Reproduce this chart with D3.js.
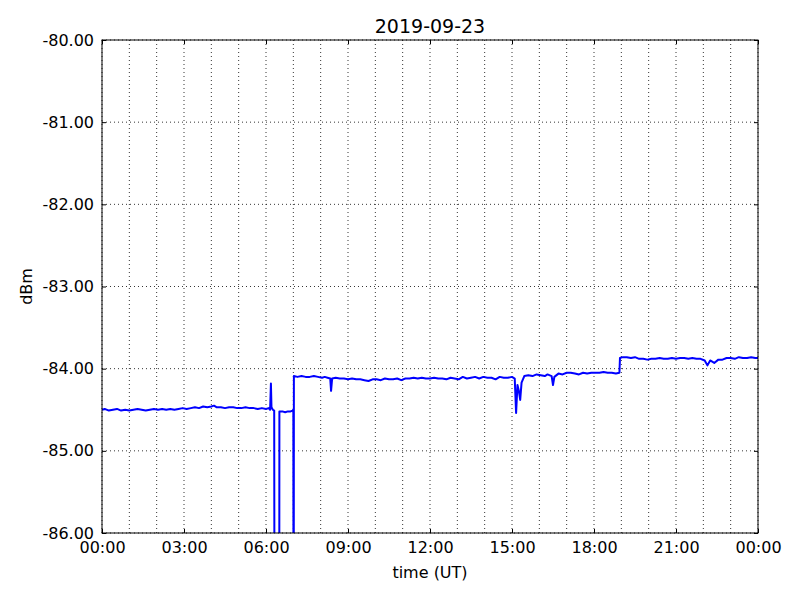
<!DOCTYPE html>
<html>
<head>
<meta charset="utf-8">
<script src="https://cdn.jsdelivr.net/npm/d3@7"></script>
<style>
  body { margin: 0; background: #fff; }
  text { font-family: "DejaVu Sans", sans-serif; }
</style>
</head>
<body>
<div id="chart"></div>
<script>
// readings: hour of day (UT) and level (dBm)
const hours = [
  0.00, 0.10, 0.25, 0.40, 0.55, 0.70, 0.85, 1.00, 1.15, 1.30, 1.45, 1.60, 1.75, 1.90,
  2.05, 2.20, 2.35, 2.50, 2.65, 2.80, 2.95, 3.10, 3.25, 3.40, 3.55, 3.70, 3.85, 4.00,
  4.10, 4.20, 4.35, 4.50, 4.65, 4.80, 4.95, 5.10, 5.25, 5.40, 5.55, 5.70, 5.85, 6.00,
  6.10, 6.15, 6.18, 6.20, 6.25, 6.30, 6.32, 6.48, 6.49, 6.60, 6.70, 6.80, 6.90, 6.97,
  7.00, 7.01, 7.02, 7.15, 7.30, 7.45, 7.60, 7.75, 7.90, 8.05, 8.15, 8.25, 8.35, 8.38,
  8.42, 8.55, 8.70, 8.85, 9.00, 9.15, 9.30, 9.45, 9.60, 9.75, 9.90, 10.05, 10.20, 10.35,
  10.50, 10.65, 10.80, 10.95, 11.10, 11.25, 11.40, 11.55, 11.70, 11.85, 12.00, 12.15,
  12.30, 12.45, 12.60, 12.75, 12.90, 13.05, 13.20, 13.35, 13.50, 13.65, 13.80, 13.95,
  14.10, 14.25, 14.40, 14.55, 14.70, 14.85, 15.00, 15.10, 15.15, 15.20, 15.25, 15.30,
  15.35, 15.45, 15.60, 15.75, 15.90, 16.05, 16.20, 16.30, 16.45, 16.50, 16.55, 16.70,
  16.85, 17.00, 17.15, 17.30, 17.45, 17.60, 17.75, 17.90, 18.05, 18.20, 18.35, 18.50,
  18.65, 18.80, 18.93, 18.95, 19.05, 19.20, 19.35, 19.50, 19.65, 19.80, 19.95, 20.10,
  20.25, 20.40, 20.55, 20.70, 20.85, 21.00, 21.15, 21.30, 21.45, 21.60, 21.75, 21.90,
  22.05, 22.15, 22.25, 22.40, 22.55, 22.70, 22.85, 23.00, 23.15, 23.30, 23.45, 23.60,
  23.75, 23.90, 24.00
]
const dbm = [
  -84.50, -84.49, -84.51, -84.50, -84.49, -84.51, -84.50, -84.51, -84.50, -84.49, -84.50, -84.51, -84.50, -84.49,
  -84.50, -84.49, -84.50, -84.49, -84.50, -84.49, -84.48, -84.49, -84.48, -84.47, -84.48, -84.46, -84.47, -84.46,
  -84.45, -84.47, -84.47, -84.48, -84.47, -84.47, -84.48, -84.48, -84.47, -84.48, -84.48, -84.49, -84.48, -84.49,
  -84.48, -84.50, -84.18, -84.47, -84.50, -84.51, -90.00, -90.00, -84.52, -84.52, -84.53, -84.52, -84.52, -84.51,
  -84.50, -90.00, -84.09, -84.10, -84.09, -84.10, -84.10, -84.09, -84.10, -84.11, -84.10, -84.11, -84.12, -84.27,
  -84.12, -84.11, -84.12, -84.12, -84.13, -84.12, -84.13, -84.13, -84.14, -84.15, -84.13, -84.13, -84.14, -84.12,
  -84.13, -84.13, -84.12, -84.14, -84.12, -84.12, -84.11, -84.12, -84.11, -84.12, -84.12, -84.11,
  -84.12, -84.12, -84.13, -84.11, -84.12, -84.13, -84.10, -84.12, -84.11, -84.10, -84.12, -84.10,
  -84.11, -84.11, -84.13, -84.10, -84.11, -84.11, -84.10, -84.12, -84.54, -84.20, -84.27, -84.38,
  -84.17, -84.09, -84.08, -84.09, -84.07, -84.08, -84.09, -84.07, -84.09, -84.20, -84.10, -84.06,
  -84.07, -84.05, -84.05, -84.06, -84.07, -84.05, -84.06, -84.05, -84.05, -84.05, -84.04, -84.05,
  -84.05, -84.06, -84.05, -83.87, -83.86, -83.86, -83.87, -83.86, -83.88, -83.88, -83.89, -83.88,
  -83.88, -83.87, -83.88, -83.88, -83.87, -83.88, -83.87, -83.87, -83.88, -83.87, -83.88, -83.88,
  -83.90, -83.96, -83.90, -83.93, -83.89, -83.89, -83.87, -83.87, -83.88, -83.86, -83.87, -83.87,
  -83.86, -83.87, -83.87
]
const xTickHours = [0, 3, 6, 9, 12, 15, 18, 21, 24]
const xTickLabels = ["00:00", "03:00", "06:00", "09:00", "12:00", "15:00", "18:00", "21:00", "00:00"]
const yTicks = [-86, -85, -84, -83, -82, -81, -80]
const gridHours = d3.range(0, 25)

const dimensions = {
  width: 800,
  height: 600,
  margin: { top: 40, right: 42, bottom: 67, left: 102 },
}
dimensions.boundedWidth = dimensions.width - dimensions.margin.left - dimensions.margin.right
dimensions.boundedHeight = dimensions.height - dimensions.margin.top - dimensions.margin.bottom

const svg = d3.select("#chart").append("svg")
  .attr("width", dimensions.width)
  .attr("height", dimensions.height)

const bounds = svg.append("g")
  .attr("transform", `translate(${dimensions.margin.left},${dimensions.margin.top})`)

const xScale = d3.scaleLinear().domain([0, 24]).range([0, dimensions.boundedWidth])
const yScale = d3.scaleLinear().domain([-86, -80]).range([dimensions.boundedHeight, 0])

// grid: hourly verticals, one per dBm horizontally
bounds.append("g").selectAll("line")
  .data(gridHours)
  .join("line")
    .attr("x1", d => xScale(d)).attr("x2", d => xScale(d))
    .attr("y1", 0).attr("y2", dimensions.boundedHeight)
    .attr("stroke", "#000").attr("stroke-width", 0.8)
    .attr("stroke-dasharray", "1,3")

bounds.append("g").selectAll("line")
  .data(yTicks)
  .join("line")
    .attr("x1", 0).attr("x2", dimensions.boundedWidth)
    .attr("y1", d => yScale(d)).attr("y2", d => yScale(d))
    .attr("stroke", "#000").attr("stroke-width", 0.8)
    .attr("stroke-dasharray", "1,3")

// data line
bounds.append("clipPath").attr("id", "clip")
  .append("rect")
    .attr("width", dimensions.boundedWidth)
    .attr("height", dimensions.boundedHeight)

const points = hours.map((h, i) => [h, dbm[i]])
const lineGen = d3.line()
  .x(d => xScale(d[0]))
  .y(d => yScale(d[1]))

bounds.append("path")
  .datum(points)
  .attr("clip-path", "url(#clip)")
  .attr("d", lineGen)
  .attr("fill", "none")
  .attr("stroke", "#0000ff")
  .attr("stroke-width", 2)
  .attr("stroke-linejoin", "round")

// axes (inward ticks on all four sides)
const xAxisBottom = bounds.append("g")
  .attr("transform", `translate(0,${dimensions.boundedHeight})`)
  .call(d3.axisBottom(xScale).tickValues(xTickHours)
    .tickFormat((d, i) => xTickLabels[i]).tickSizeInner(-4).tickSizeOuter(0).tickPadding(9))
const xAxisTop = bounds.append("g")
  .call(d3.axisTop(xScale).tickValues(xTickHours)
    .tickFormat("").tickSizeInner(-4).tickSizeOuter(0))
const yAxisLeft = bounds.append("g")
  .call(d3.axisLeft(yScale).tickValues(yTicks)
    .tickFormat(d3.format(".2f")).tickSizeInner(-4).tickSizeOuter(0).tickPadding(8))
const yAxisRight = bounds.append("g")
  .attr("transform", `translate(${dimensions.boundedWidth},0)`)
  .call(d3.axisRight(yScale).tickValues(yTicks)
    .tickFormat("").tickSizeInner(-4).tickSizeOuter(0))

bounds.selectAll(".domain").remove()
bounds.selectAll(".tick line").attr("stroke", "#000")
bounds.selectAll(".tick text")
  .attr("fill", "#000")
  .style("font-size", "16px")
  .style("font-family", "DejaVu Sans")

yAxisLeft.selectAll(".tick text").text(d => d3.format(".2f")(d).replace("−", "-"))

// frame
bounds.append("rect")
  .attr("width", dimensions.boundedWidth)
  .attr("height", dimensions.boundedHeight)
  .attr("fill", "none")
  .attr("stroke", "#000")
  .attr("stroke-width", 1)

// labels
svg.append("text")
  .attr("x", dimensions.margin.left + dimensions.boundedWidth / 2)
  .attr("y", 33)
  .attr("text-anchor", "middle")
  .style("font-size", "19px")
  .text("2019-09-23")

svg.append("text")
  .attr("x", dimensions.margin.left + dimensions.boundedWidth / 2)
  .attr("y", 578)
  .attr("text-anchor", "middle")
  .style("font-size", "16px")
  .text("time (UT)")

svg.append("text")
  .attr("transform", `translate(32,${dimensions.margin.top + dimensions.boundedHeight / 2}) rotate(-90)`)
  .attr("text-anchor", "middle")
  .style("font-size", "16px")
  .text("dBm")
</script>
</body>
</html>
